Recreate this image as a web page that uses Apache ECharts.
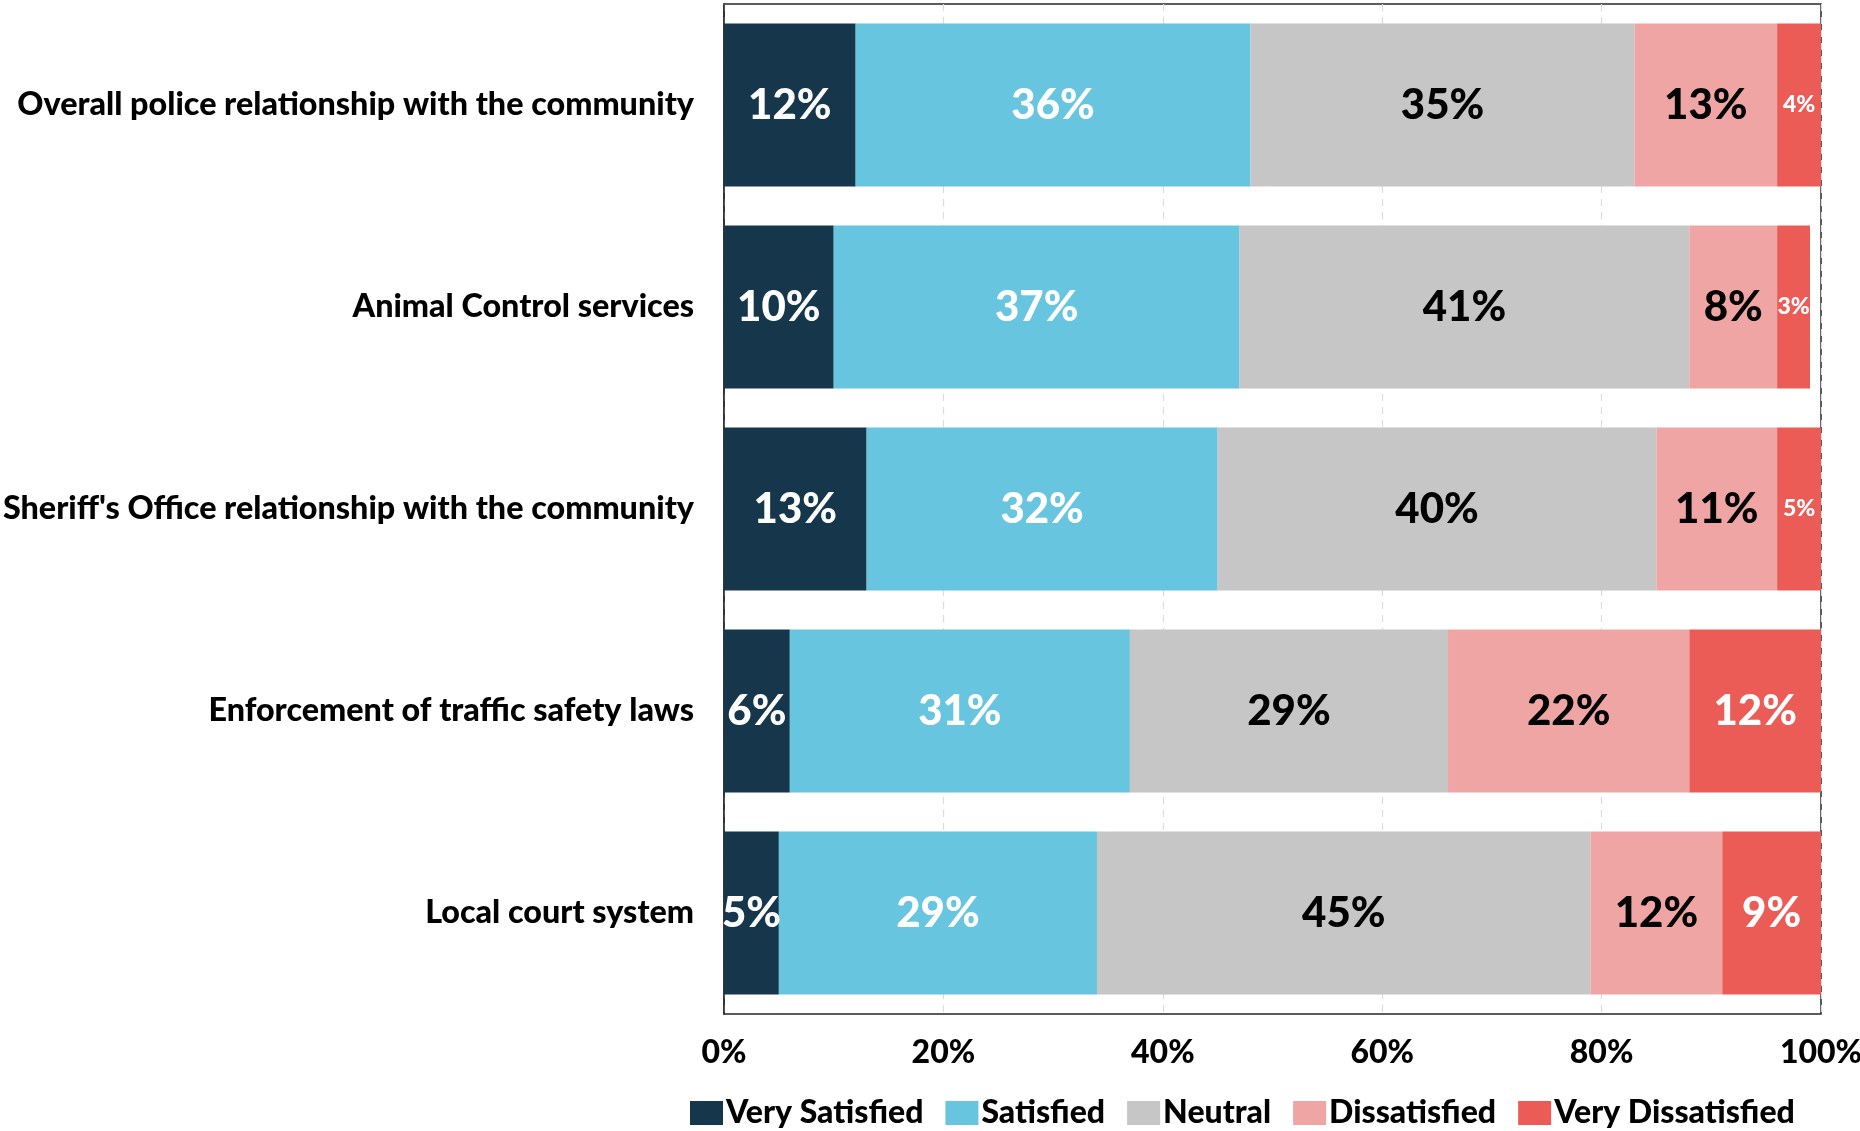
<!DOCTYPE html>
<html>
<head>
<meta charset="utf-8">
<title>Satisfaction with public safety services</title>
<script src="https://cdn.jsdelivr.net/npm/echarts@6/dist/echarts.min.js"></script>
<style>
  html, body { margin: 0; padding: 0; background: #ffffff; }
  #chart { width: 1860px; height: 1131px; }
</style>
</head>
<body>
<div id="chart"></div>
<script>
// Survey items, top to bottom
const categories = [
  'Overall police relationship with the community',
  'Animal Control services',
  "Sheriff's Office relationship with the community",
  'Enforcement of traffic safety laws',
  'Local court system'
];

// Share of respondents (%) for each rating, in the same order as categories
const verySatisfied    = [12, 10, 13, 6, 5];
const satisfied        = [36, 37, 32, 31, 29];
const neutral          = [35, 41, 40, 29, 45];
const dissatisfied     = [13, 8, 11, 22, 12];
const veryDissatisfied = [4, 3, 5, 12, 9];

const ratingNames = ['Very Satisfied', 'Satisfied', 'Neutral', 'Dissatisfied', 'Very Dissatisfied'];
const ratingValues = [verySatisfied, satisfied, neutral, dissatisfied, veryDissatisfied];

const xTicks = [0, 20, 40, 60, 80, 100];

const FONT = 'Lato, "Open Sans", "Noto Sans", sans-serif';
const WEIGHT = 900;
const colors = ['#16364B', '#68C5DF', '#C6C6C6', '#F0A5A5', '#EC5C57'];
const labelColors = ['#ffffff', '#ffffff', '#000000', '#000000', '#ffffff'];

const series = ratingNames.map(function (name, si) {
  return {
    name: name,
    type: 'bar',
    stack: 'total',
    barWidth: 163,
    itemStyle: { color: colors[si] },
    label: {
      show: true,
      position: 'inside',
      formatter: '{c}%',
      color: labelColors[si],
      fontFamily: FONT,
      fontWeight: WEIGHT,
      fontSize: 42
    },
    data: ratingValues[si].map(function (v) {
      // thin end segments get a smaller label so it fits inside the bar
      if (si === 4 && v <= 5) {
        return { value: v, label: { fontSize: 23 } };
      }
      return v;
    })
  };
});

const chart = echarts.init(document.getElementById('chart'), null, { renderer: 'canvas' });
chart.setOption({
  animation: false,
  backgroundColor: '#ffffff',
  grid: {
    left: 724,
    right: 39,
    top: 4,
    bottom: 117,
    outerBoundsMode: 'none',
    show: true,
    borderColor: '#262626',
    borderWidth: 1.5,
    backgroundColor: 'transparent'
  },
  legend: {
    data: ratingNames,
    left: 690,
    top: 1097,
    padding: 0,
    icon: 'rect',
    itemWidth: 33,
    itemHeight: 24,
    itemGap: 22,
    textStyle: {
      fontFamily: FONT,
      fontWeight: WEIGHT,
      fontSize: 32,
      color: '#000000',
      padding: [0, 0, 0, -2]
    }
  },
  xAxis: {
    type: 'value',
    min: xTicks[0],
    max: xTicks[xTicks.length - 1],
    interval: xTicks[1] - xTicks[0],
    axisLine: { show: false },
    axisTick: { show: false },
    splitLine: {
      show: true,
      lineStyle: { color: '#dcdcdc', width: 1.2, type: [7, 6] }
    },
    axisLabel: {
      margin: 23,
      formatter: '{value}%',
      fontFamily: FONT,
      fontWeight: WEIGHT,
      fontSize: 32,
      color: '#000000'
    }
  },
  yAxis: {
    type: 'category',
    inverse: true,
    data: categories,
    axisLine: { show: true, lineStyle: { color: '#262626', width: 1.5 } },
    axisTick: { show: false },
    axisLabel: {
      margin: 30,
      fontFamily: FONT,
      fontWeight: WEIGHT,
      fontSize: 32.3,
      color: '#000000'
    }
  },
  series: series
});
</script>
</body>
</html>
